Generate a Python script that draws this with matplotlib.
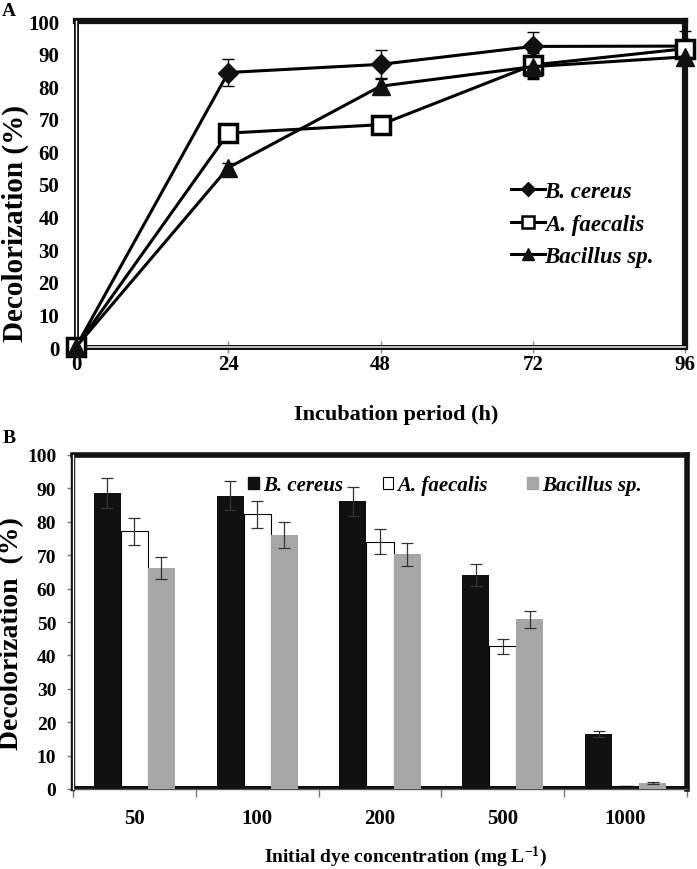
import matplotlib
matplotlib.use("Agg")
import matplotlib.pyplot as plt
import numpy as np
from matplotlib.lines import Line2D
from matplotlib.patches import Patch

plt.rcParams['font.family'] = ['Liberation Serif', 'DejaVu Serif']
plt.rcParams['font.weight'] = 'bold'
plt.rcParams['mathtext.fontset'] = 'custom'
plt.rcParams['mathtext.rm'] = 'Liberation Serif:bold'
plt.rcParams['mathtext.it'] = 'Liberation Serif:bold:italic'
plt.rcParams['mathtext.bf'] = 'Liberation Serif:bold'

# ---------------- data ----------------
# Panel A
hours = [0, 24, 48, 72, 96]
cereus_time = [0, 84.2, 86.7, 92.2, 92.3]
cereus_time_err = [0, 4.0, 4.5, 4.3, 4.5]
faecalis_time = [0, 65.6, 68.2, 86.5, 91.5]
faecalis_time_err = [0, 1.5, 1.5, 4.0, 2.0]
bacillus_time = [0, 55.0, 80.0, 86.0, 89.0]
bacillus_time_err = [0, 1.5, 2.5, 2.0, 2.0]

# Panel B
concentrations = ['50', '100', '200', '500', '1000']
cereus_conc = [88.5, 87.8, 86.1, 64.0, 16.5]
cereus_conc_err = [4.5, 4.4, 4.3, 3.3, 0.8]
faecalis_conc = [77.1, 82.2, 74.0, 42.7, 0.8]
faecalis_conc_err = [4.0, 4.1, 3.7, 2.2, 0.0]
bacillus_conc = [66.3, 76.0, 70.3, 50.8, 1.7]
bacillus_conc_err = [3.3, 3.9, 3.5, 2.5, 0.3]

series_names = ['B. cereus', 'A. faecalis', 'Bacillus sp.']

W, H = 697, 870
fig = plt.figure(figsize=(W / 100, H / 100), dpi=100)

def fx(px):
    return px / W

def fy(py):
    return 1 - py / H

# ---------------- Panel A ----------------
axA = fig.add_axes([fx(76), fy(348), fx(685) - fx(76), fy(22) - fy(348)])
axA.set_xlim(0, 96)
axA.set_ylim(0, 100)

lw = 2.2
axA.errorbar(hours, cereus_time, yerr=cereus_time_err, color='black', lw=lw,
             marker='D', ms=10.5, mfc='#111111', mec='#111111', ecolor='black',
             elinewidth=1, capsize=4, capthick=1, zorder=5, clip_on=False)
axA.errorbar(hours, faecalis_time, yerr=faecalis_time_err, color='black', lw=lw,
             marker='s', ms=13, mfc='white', mec='black', mew=2.5, ecolor='black',
             elinewidth=1, capsize=4, capthick=1, zorder=5, clip_on=False)
axA.errorbar(hours, bacillus_time, yerr=bacillus_time_err, color='black', lw=lw,
             marker='^', ms=13, mfc='#111111', mec='#111111', ecolor='black',
             elinewidth=1, capsize=4, capthick=1, zorder=5, clip_on=False)

for s in ['top', 'right']:
    axA.spines[s].set_linewidth(4.5)
    axA.spines[s].set_color('#111111')
for s in ['left', 'bottom']:
    axA.spines[s].set_linewidth(3.6)
    axA.spines[s].set_color('#111111')
axA.axvline(0, color='white', lw=1.0, zorder=2.7, clip_on=False)
axA.axhline(0, color='#dddddd', lw=1.2, zorder=2.7, clip_on=False)

axA.set_xticks(hours)
axA.set_yticks(np.arange(0, 101, 10))
axA.tick_params(axis='x', direction='inout', length=8, width=1, color='#888888',
                labelsize=15, pad=1)
axA.tick_params(axis='y', length=0, labelsize=15, pad=12)

handlesA = [
    Line2D([], [], color='black', lw=2.2, marker='D', ms=7, mfc='#111111', mec='#111111'),
    Line2D([], [], color='black', lw=2.2, marker='s', ms=8, mfc='white', mec='black', mew=1.8),
    Line2D([], [], color='black', lw=2.2, marker='^', ms=9, mfc='#111111', mec='#111111'),
]
axA.legend(handlesA, series_names, loc='upper left',
           bbox_to_anchor=(fx(500), fy(171)), bbox_transform=fig.transFigure,
           frameon=False, borderpad=0, handlelength=1.45, handletextpad=0.0,
           labelspacing=0.5,
           prop={'family': 'Liberation Serif', 'weight': 'bold', 'style': 'italic', 'size': 16.5})

fig.text(fx(15), fy(224), 'Decolorization (%)', rotation=90, ha='center', va='center',
         fontsize=21, fontweight='bold')
fig.text(fx(396), fy(415), 'Incubation period (h)', ha='center', va='center',
         fontsize=16, fontweight='bold')
fig.text(fx(9), fy(11), 'A', ha='center', va='center', fontsize=14, fontweight='bold')

# ---------------- Panel B ----------------
axB = fig.add_axes([fx(73), fy(790), fx(687) - fx(73), fy(456) - fy(790)])
x = np.arange(len(concentrations))
bw = 0.22
axB.set_xlim(-0.5, len(concentrations) - 0.5)
axB.set_ylim(0, 100)

eb = dict(ecolor='#333333', elinewidth=0.9, capsize=4, capthick=0.9)
axB.bar(x, faecalis_conc, bw, color='white', edgecolor='black', linewidth=0.8,
        yerr=faecalis_conc_err, error_kw=eb, zorder=2)
axB.axhline(0.6, color='#111111', lw=2.2, zorder=2.5)
axB.bar(x - bw, cereus_conc, bw, color='#111111', edgecolor='none',
        yerr=cereus_conc_err, error_kw=eb, zorder=3)
axB.bar(x + bw, bacillus_conc, bw, color='#a6a6a6', edgecolor='none',
        yerr=bacillus_conc_err, error_kw=eb, zorder=3)

for s in ['top', 'right']:
    axB.spines[s].set_linewidth(4)
    axB.spines[s].set_color('#111111')
axB.spines['left'].set_linewidth(3.2)
axB.spines['left'].set_color('#111111')
axB.spines['bottom'].set_linewidth(1)
axB.spines['bottom'].set_color('#555555')
axB.axvline(-0.5, color='white', lw=0.9, zorder=2.7, clip_on=False)

axB.set_xticks(x)
axB.set_xticklabels(concentrations)
axB.set_xticks(np.arange(-0.5, len(concentrations), 1.0), minor=True)
axB.tick_params(axis='x', which='major', length=0, labelsize=15, pad=14)
axB.tick_params(axis='x', which='minor', length=6, width=1, color='#777777', direction='out')
axB.set_yticks(np.arange(0, 101, 10))
axB.tick_params(axis='y', length=4, width=1, color='#777777', labelsize=14, pad=8)

handlesB = [
    Patch(facecolor='#111111', edgecolor='#111111'),
    Patch(facecolor='white', edgecolor='black', linewidth=0.8),
    Patch(facecolor='#a6a6a6', edgecolor='#a6a6a6'),
]
axB.legend(handlesB, series_names, loc='upper left', ncol=3,
           bbox_to_anchor=(fx(238), fy(466)), bbox_transform=fig.transFigure,
           frameon=False, borderpad=0, handlelength=0.5, handleheight=0.5,
           handletextpad=0.2, columnspacing=1.9,
           prop={'family': 'Liberation Serif', 'weight': 'bold', 'style': 'italic', 'size': 15})

fig.text(fx(12), fy(634), 'Decolorization  (%)', rotation=90, ha='center', va='center',
         fontsize=20, fontweight='bold')
fig.text(fx(405), fy(857), 'Initial dye concentration (mg L$^{-1}$)', ha='center', va='center',
         fontsize=14, fontweight='bold')
fig.text(fx(9), fy(439), 'B', ha='center', va='center', fontsize=14, fontweight='bold')

fig.savefig('out.png', dpi=100)
